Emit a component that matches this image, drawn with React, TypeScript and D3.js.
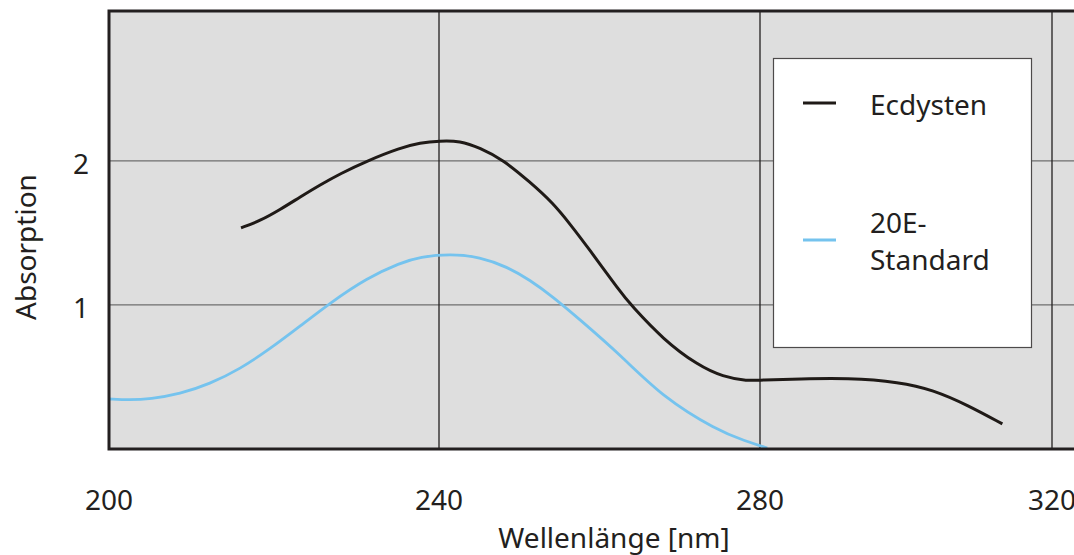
import React from "react";
import * as d3 from "d3";

const xTicks = [200, 240, 280, 320];
const yTicks = [1, 2];

const ecdystenNm = [216.0, 218.3, 220.7, 223.2, 225.6, 228.0, 231.3, 235.3, 237.7, 240.1, 242.6, 245.1, 248.0, 251.3, 254.2, 256.4, 258.5, 262.6, 263.9, 268.0, 272.2, 275.4, 278.5, 280.0, 285.5, 291.9, 299.2, 303.7, 308.4, 313.2];
const ecdystenAbs = [1.535, 1.583, 1.66, 1.75, 1.833, 1.91, 2.0, 2.09, 2.125, 2.139, 2.139, 2.09, 2.007, 1.854, 1.708, 1.556, 1.403, 1.09, 1.0, 0.757, 0.583, 0.5, 0.472, 0.479, 0.486, 0.493, 0.465, 0.41, 0.306, 0.174];

const standardNm = [200.0, 202.5, 205.0, 208.6, 212.2, 215.9, 219.5, 223.2, 226.8, 231.3, 235.3, 237.7, 241.4, 245.1, 248.5, 251.3, 254.2, 257.6, 262.6, 268.0, 274.6, 278.1, 281.0];
const standardAbs = [0.347, 0.34, 0.347, 0.382, 0.451, 0.556, 0.694, 0.854, 1.014, 1.188, 1.292, 1.333, 1.354, 1.333, 1.264, 1.174, 1.056, 0.896, 0.653, 0.354, 0.132, 0.056, 0.007];

const seriesNames = ["Ecdysten", "20E-Standard"];
const seriesColors = ["#1f1a17", "#75c3ee"];

const W = 1074;
const H = 555;
const left = 109;
const top = 11;
const bottom = 449;
const right = 1100;
const FONT = "'Noto Sans', sans-serif";
const TEXT = "#231f20";

export default function App() {
  const x = d3.scaleLinear().domain([200, 240, 280, 320]).range([109, 439, 760, 1052]);
  const y = d3.scaleLinear().domain([0, 3.04]).range([bottom, top]);
  const line = d3
    .line<[number, number]>()
    .x((d) => x(d[0]))
    .y((d) => y(d[1]))
    .curve(d3.curveBasis);
  const ecd: [number, number][] = ecdystenNm.map((n, i) => [n, ecdystenAbs[i]]);
  const std: [number, number][] = standardNm.map((n, i) => [n, standardAbs[i]]);

  return (
    <svg
      width={W}
      height={H}
      style={{ position: "absolute", left: 0, top: 0, background: "#fff" }}
      fontFamily={FONT}
    >
      <rect x={left} y={top} width={right - left} height={bottom - top} fill="#dedede" />
      {yTicks.map((t) => (
        <line key={"gy" + t} x1={left} x2={right} y1={y(t)} y2={y(t)} stroke="#6e6e6e" strokeWidth={1.3} />
      ))}
      {xTicks.slice(1).map((t) => (
        <line key={"gx" + t} x1={x(t)} x2={x(t)} y1={top} y2={bottom} stroke="#231f20" strokeWidth={1.3} />
      ))}
      <path d={line(std) || ""} fill="none" stroke={seriesColors[1]} strokeWidth={2.8} />
      <path d={line(ecd) || ""} fill="none" stroke={seriesColors[0]} strokeWidth={3} />
      {/* legend */}
      <rect x={773.5} y={58.5} width={258} height={289} fill="#fff" stroke="#4d4a4a" strokeWidth={1.2} />
      <line x1={803} x2={836} y1={103} y2={103} stroke={seriesColors[0]} strokeWidth={3.2} />
      <line x1={803} x2={836} y1={240} y2={240} stroke={seriesColors[1]} strokeWidth={3} />
      <text x={870} y={115} fontSize={28} fill={TEXT}>{seriesNames[0]}</text>
      <text x={870} y={233} fontSize={28} fill={TEXT}>20E-</text>
      <text x={870} y={270} fontSize={28} fill={TEXT}>Standard</text>
      {/* border */}
      <path d={`M${right},${top}H${left}V${bottom}H${right}`} fill="none" stroke="#231f20" strokeWidth={3} />
      {/* ticks */}
      {xTicks.map((t) => (
        <text key={"tx" + t} x={x(t)} y={510} fontSize={28} textAnchor="middle" fill={TEXT}>
          {t}
        </text>
      ))}
      {yTicks.map((t) => (
        <text key={"ty" + t} x={89} y={y(t) + 13} fontSize={28} textAnchor="end" fill={TEXT}>
          {t}
        </text>
      ))}
      <text x={614} y={548} fontSize={28} textAnchor="middle" fill={TEXT}>
        Wellenlänge [nm]
      </text>
      <text transform="translate(36,247) rotate(-90)" fontSize={28} textAnchor="middle" fill={TEXT}>
        Absorption
      </text>
    </svg>
  );
}
